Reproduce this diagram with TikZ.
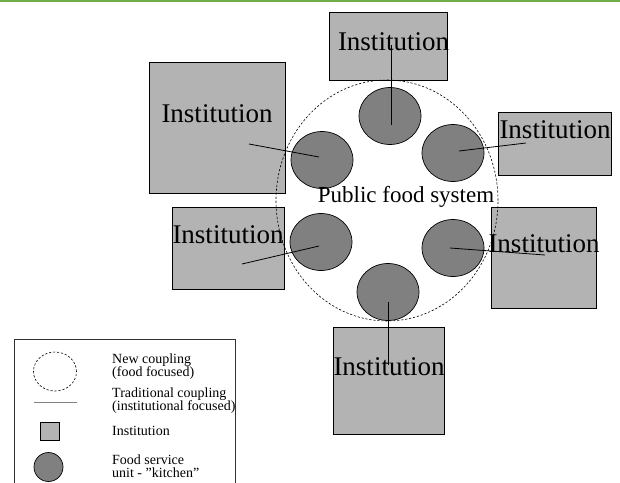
\documentclass[tikz,border=0pt]{standalone}
\usepackage{fontspec}
\setmainfont{Liberation Serif}
\usetikzlibrary{positioning, calc, shapes.geometric}
\definecolor{instgray}{RGB}{179,179,179}
\definecolor{kitchengray}{RGB}{128,128,128}
\definecolor{topgreen}{RGB}{112,173,71}

\tikzset{
  instbox/.style={draw=black, fill=instgray, line width=0.8pt, inner sep=0pt},
  kitchen/.style={ellipse, draw=black, fill=kitchengray, line width=0.7pt,
                  minimum width=62, minimum height=57, inner sep=0pt},
  newcoupling/.style={ellipse, draw=black, line width=0.6pt, dash pattern=on 2.2pt off 1.8pt, inner sep=0pt},
  coupling/.style={draw=black, line width=0.8pt},
  insttext/.style={font=\fontsize{27}{30}\selectfont, anchor=base, inner sep=0pt},
  legtext/.style={font=\fontsize{14}{13}\selectfont, align=left, anchor=west, inner sep=0pt}
}

\begin{document}
\begin{tikzpicture}[x=1pt, y=-1pt]
\useasboundingbox (0,0) rectangle (620,482);
\fill[topgreen] (0,0) rectangle (620,2);

% institutions
\node[instbox, minimum width=118, minimum height=68]  (i1) at (388.5,46) {};
\node[instbox, minimum width=136, minimum height=131] (i2) at (217,127.5) {};
\node[instbox, minimum width=113, minimum height=63]  (i3) at (554.5,143.5) {};
\node[instbox, minimum width=112, minimum height=82]  (i4) at (228,248) {};
\node[instbox, minimum width=105, minimum height=101] (i5) at (543.5,257.5) {};
\node[instbox, minimum width=111, minimum height=107] (i6) at (388.5,380.5) {};

% public food system
\node[newcoupling, minimum width=222, minimum height=241] (pfs) at (387,200.5) {};

% kitchens
\node[kitchen] (k1) at (390,116) {};
\node[kitchen] (k2) at (322,160) {};
\node[kitchen] (k3) at (453,153) {};
\node[kitchen] (k4) at (321,242) {};
\node[kitchen] (k5) at (453,248) {};
\node[kitchen] (k6) at (388,292) {};

% traditional couplings
\draw[coupling] ([shift={(1,9)}]k1.center)  -- ([shift={(2.5,-1)}]i1.center);
\draw[coupling] ([shift={(-3,-3)}]k2.center) -- ([shift={(32,16.5)}]i2.center);
\draw[coupling] ([shift={(6,-2)}]k3.center)  -- ([shift={(-28.5,-0.5)}]i3.center);
\draw[coupling] ([shift={(-2,4)}]k4.center)  -- ([shift={(14,16)}]i4.center);
\draw[coupling] ([shift={(-3,0)}]k5.center)  -- ([shift={(1.5,-2.5)}]i5.center);
\draw[coupling] ([shift={(0,10)}]k6.center)  -- ([shift={(-0.5,-15.5)}]i6.center);

\node[insttext] (t1) at (393.5,50) {Institution};
\node[insttext] (t2) at (217,122) {Institution};
\node[insttext] (t3) at (555,138) {Institution};
\node[insttext] (t4) at (228,243) {Institution};
\node[insttext] (t5) at (544,252) {Institution};
\node[insttext] (t6) at (389,375) {Institution};
\node[font=\fontsize{23}{26}\selectfont, anchor=base, inner sep=0pt] (pfstext) at (406,202) {Public food system};

% legend
\draw[draw=black!80, line width=0.7pt] (14,490) -- (14,339) -- (235,339) -- (235,490);
\node[newcoupling, minimum width=43, minimum height=39] (lnew) at (55,371.5) {};
\coordinate (ltradA) at (34,402);
\coordinate (ltradB) at (77,402);
\draw[draw=kitchengray, line width=1pt] (ltradA) -- (ltradB);
\node[instbox, minimum width=19, minimum height=18] (linst) at (49.5,431) {};
\node[kitchen, minimum width=29, minimum height=29] (lkit) at (48.5,467) {};

\node[legtext] (lnewtext)  at (112,367) {New coupling\\(food focused)};
\node[legtext] (ltradtext) at (112,401) {Traditional coupling\\(institutional focused)};
\node[legtext, anchor=base west] (linsttext) at (112,435) {Institution};
\node[legtext] (lkittext)  at (112,466) {Food service\\unit - "kitchen"};
\end{tikzpicture}
\end{document}
